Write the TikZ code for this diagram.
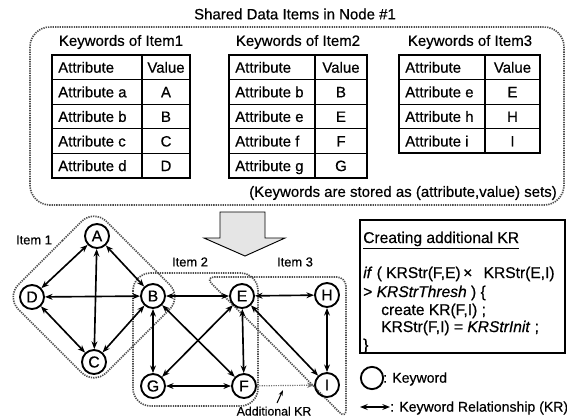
\documentclass[tikz,border=0pt]{standalone}
\usepackage{fontspec}
\setmainfont{Liberation Sans}[FakeBold=0.5]
\usetikzlibrary{arrows.meta}

% one table of (attribute, value) pairs:
% #1 name, #2 left edge, #3 column split, #4 right edge, #5 number of rows, #6 rows
\newcommand{\kwtable}[6]{%
  \pgfmathsetmacro{\tbot}{55+24.6*(#5+1)}
  \draw[line width=1.7pt] (#2,55) rectangle (#4,\tbot);
  \draw[line width=1.1pt] (#3,55) -- (#3,\tbot);
  \foreach \k in {1,...,#5} \draw[line width=1.1pt] (#2,55+24.6*\k) -- (#4,55+24.6*\k);
  \node[cell, anchor=west] (#1-h1) at (#2+6,67.3) {Attribute};
  \node[cell] (#1-h2) at ({(#3+#4)/2},67.3) {Value};
  \foreach \a/\v [count=\k] in {#6} {
    \node[cell, anchor=west] (#1-a\k) at (#2+6,67.3+24.6*\k) {\a};
    \node[cell] (#1-v\k) at ({(#3+#4)/2},67.3+24.6*\k) {\v};
  }
}

\tikzset{
  cell/.style={font=\fontsize{12.8}{14}\selectfont, inner sep=0pt, text height=9.2pt, text depth=0pt},
  heading/.style={font=\fontsize{12.8}{14}\selectfont, inner sep=0pt},
  kw/.style={circle, draw, line width=1.6pt, minimum size=20.5pt, inner sep=0pt,
    font=\fontsize{13.5}{14}\selectfont},
  kr/.style={line width=1.4pt, {Stealth[length=6.5pt,width=5pt]}-{Stealth[length=6.5pt,width=5pt]}},
  grp/.style={draw=black!70, line width=1.4pt, dash pattern=on 1.1pt off 0.9pt},
  itemlabel/.style={font=\fontsize{11}{12}\selectfont, inner sep=0pt},
  code/.style={font=\fontsize{13.3}{15}\selectfont, inner sep=0pt, anchor=base west},
  legend/.style={font=\fontsize{12}{14}\selectfont, inner sep=0pt, anchor=west},
}

\begin{document}
\begin{tikzpicture}[x=0.03cm, y=-0.03cm]
\useasboundingbox (0,0) rectangle (567,418);

% ---------- shared data items ----------
\node[heading] (title) at (295,14) {Shared Data Items in Node \#1};
\draw[grp, rounded corners=17pt] (30,27) rectangle (564,205);

\node[heading] (h1) at (121,42) {Keywords of Item1};
\node[heading] (h2) at (298,42) {Keywords of Item2};
\node[heading] (h3) at (470,42) {Keywords of Item3};

\kwtable{ta}{52}{142}{190}{4}{Attribute a/A, Attribute b/B, Attribute c/C, Attribute d/D}
\kwtable{tb}{229}{315}{367}{4}{Attribute b/B, Attribute e/E, Attribute f/F, Attribute g/G}
\kwtable{tc}{399}{485}{540}{3}{Attribute e/E, Attribute h/H, Attribute i/I}

\node[heading, anchor=east] (note) at (557,193) {(Keywords are stored as (attribute,value) sets)};

% ---------- block arrow ----------
\draw[fill=black!10, line width=0.8pt] (220,212) -- (265,212) -- (265,238) -- (285,238)
  -- (245,256) -- (204,238) -- (220,238) -- cycle;

% ---------- item groups ----------
\draw[grp, rounded corners=15pt] (50,253) -- (94,209) -- (182,297) -- (94,385) -- (6,297) -- cycle;
\draw[grp, rounded corners=15pt] (133,273) rectangle (258,406);
\draw[grp, rounded corners=8pt] (275.5,347.5) -- (205,277) -- (346,277) -- (346,419) -- cycle;

\node[itemlabel] (l1) at (34,240) {Item 1};
\node[itemlabel] (l2) at (190,262) {Item 2};
\node[itemlabel] (l3) at (295,262) {Item 3};

% ---------- keywords ----------
\node[kw] (A) at (97,236) {A};
\node[kw] (D) at (32,297) {D};
\node[kw] (B) at (153,296) {B};
\node[kw] (C) at (94,362) {C};
\node[kw] (G) at (153,386) {G};
\node[kw] (E) at (242,296) {E};
\node[kw] (F) at (244,386) {F};
\node[kw] (H) at (327,295) {H};
\node[kw] (I) at (327,385) {I};

% ---------- keyword relationships ----------
\foreach \u/\v in {A/D, A/B, A/C, D/B, D/C, C/B, B/E, B/G, B/F, E/G, E/F, G/F, E/H, E/I, H/I}
  \draw[kr] (\u) -- (\v);

% additional relationship
\draw[line width=1pt, black!55, dash pattern=on 1pt off 1pt, -{Stealth[length=6pt,width=4.5pt]}] (F) -- (I);
\node[itemlabel, font=\fontsize{10.5}{12}\selectfont, anchor=base] (addkr) at (274,415.5) {Additional KR};
\coordinate (krfoot) at (277,403);
\coordinate (krtip) at (283,390);
\draw[line width=0.9pt, -{Stealth[length=5pt,width=3.5pt]}] (krfoot) -- (krtip);

% ---------- rule box ----------
\draw[line width=1.1pt] (360,220) rectangle (565,353);
\node[code] (c1) at (363,243) {\underline{Creating additional KR}};
\node[code] (c2) at (363,278) {\textit{if} ( KRStr(F,E)\,× \ \,KRStr(E,I)};
\node[code] (c3) at (363,297) {> \textit{KRStrThresh} ) \{};
\node[code] (c4) at (381,315) {create KR(F,I) ;};
\node[code] (c5) at (381,332) {KRStr(F,I) = \textit{KRStrInit} ;};
\node[code] (c6) at (363,350) {\}};

% ---------- legend ----------
\node[kw, minimum size=19pt] (lgkw) at (372,378) {};
\node[legend] (lgkwt) at (383,379) {: Keyword};
\coordinate (lgl) at (360,407);
\coordinate (lgr) at (390,407);
\draw[kr] (lgl) -- (lgr);
\node[legend] (lgkrt) at (390,408) {: Keyword Relationship (KR)};
\end{tikzpicture}
\end{document}
